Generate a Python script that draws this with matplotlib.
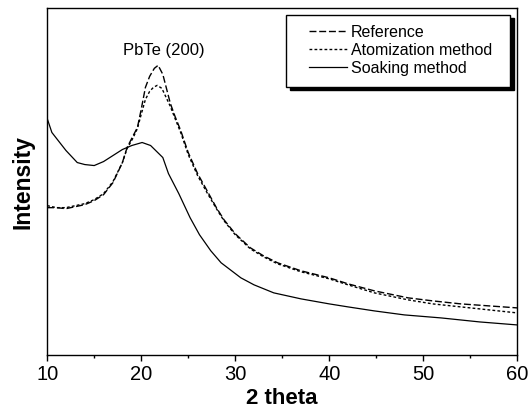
# XRD patterns of PbTe samples

import numpy as np
import matplotlib.pyplot as plt
from matplotlib.ticker import MultipleLocator
from matplotlib.patches import Rectangle

plt.rcParams['font.family'] = ['Liberation Sans', 'DejaVu Sans']

# -------------------- Data (arbitrary intensity) --------------------
theta_ref = [10, 11, 12, 13, 14, 15, 16, 17, 18, 18.5, 19.1, 19.6, 20.0, 20.45, 20.9, 21.4, 21.8,
             22.3, 23.1, 23.6, 24.2, 25, 26, 27, 28, 28.8, 30, 31.6, 33, 34.5, 37, 40,
             42, 44.8, 48.4, 51, 54, 57, 60]
int_ref = [147, 147, 146, 148, 150, 154, 160, 172, 192, 207, 218, 227, 245, 267, 278, 286, 289,
           280, 251, 238, 224, 202, 181, 164, 147, 135, 121, 107, 99, 92, 84, 77,
           71, 64, 57, 54, 51, 49, 47]

theta_atom = [10, 11, 12, 13, 14, 15, 16, 17, 18, 18.5, 19.1, 19.6, 20.0, 20.45, 20.9, 21.3, 21.7,
              22.2, 23.1, 23.6, 24.2, 25, 26, 27, 28, 28.8, 30, 31.6, 33, 34.5, 37, 40,
              42, 44.8, 48.4, 51, 54, 57, 60]
int_atom = [149, 147, 147, 149, 151, 155, 161, 173, 192, 206, 216, 226, 240, 255, 263, 267, 269,
            266, 248, 236, 222, 200, 179, 162, 146, 134, 120, 106, 98, 91, 83, 76,
            70, 62, 55, 51, 48, 45, 42]

theta_soak = [10, 10.5, 11, 12, 13.2, 14, 15, 16, 17, 18, 19, 20.1, 21, 22.3, 22.9, 24, 25.2,
              26.2, 27.4, 28.5, 30.6, 32, 34.1, 37, 40, 42, 44.8, 48, 51.9, 56, 60]
int_soak = [236, 222, 216, 204, 192, 190, 189, 193, 199, 205, 209, 212, 209, 197, 181, 161, 137,
            120, 104, 92, 77, 70, 62, 56, 51, 48, 44, 40, 37, 33, 30]

# -------------------- Plot --------------------
fig = plt.figure(figsize=(5.3, 4.09), dpi=100)
ax = fig.add_axes([0.089, 0.132, 0.887, 0.848])

ax.plot(theta_ref, int_ref, color='black', lw=1.0, ls=(0, (5, 2)), label='Reference')
ax.plot(theta_atom, int_atom, color='black', lw=1.0, ls=(0, (2, 1.6)), label='Atomization method')
ax.plot(theta_soak, int_soak, color='black', lw=0.9, ls='-', label='Soaking method')

ax.set_xlim(10, 60)
ax.set_ylim(0, 346)
ax.xaxis.set_major_locator(MultipleLocator(10))
ax.xaxis.set_minor_locator(MultipleLocator(5))
ax.tick_params(axis='x', which='major', direction='out', length=4, width=1, labelsize=14.5, pad=3)
ax.tick_params(axis='x', which='minor', direction='out', length=2.5, width=1)
ax.set_yticks([])
for s in ax.spines.values():
    s.set_linewidth(1.0)

ax.set_xlabel('2 theta', fontsize=16, fontweight='bold', labelpad=3)
ax.set_ylabel('Intensity', fontsize=16.5, fontweight='bold', labelpad=9)

ax.text(22.4, 304, 'PbTe (200)', fontsize=12, ha='center', va='center')

# legend box with a solid black drop shadow
box_x0, box_x1, box_y0, box_y1 = 0.5085, 0.985, 0.772, 0.980
shadow = Rectangle((box_x0 + 0.009, box_y0 - 0.009), box_x1 - box_x0, box_y1 - box_y0,
                   transform=ax.transAxes, facecolor='black', edgecolor='black', zorder=4)
frame = Rectangle((box_x0, box_y0), box_x1 - box_x0, box_y1 - box_y0,
                  transform=ax.transAxes, facecolor='white', edgecolor='black', lw=1.0, zorder=5)
ax.add_patch(shadow)
ax.add_patch(frame)

leg = ax.legend(loc='upper left', bbox_to_anchor=(0.557, 0.952), borderaxespad=0, borderpad=0,
                fontsize=11.5, frameon=False, handlelength=2.4, handletextpad=0.2,
                labelspacing=0.18)
leg.set_zorder(6)

plt.savefig('out.png', dpi=100)
